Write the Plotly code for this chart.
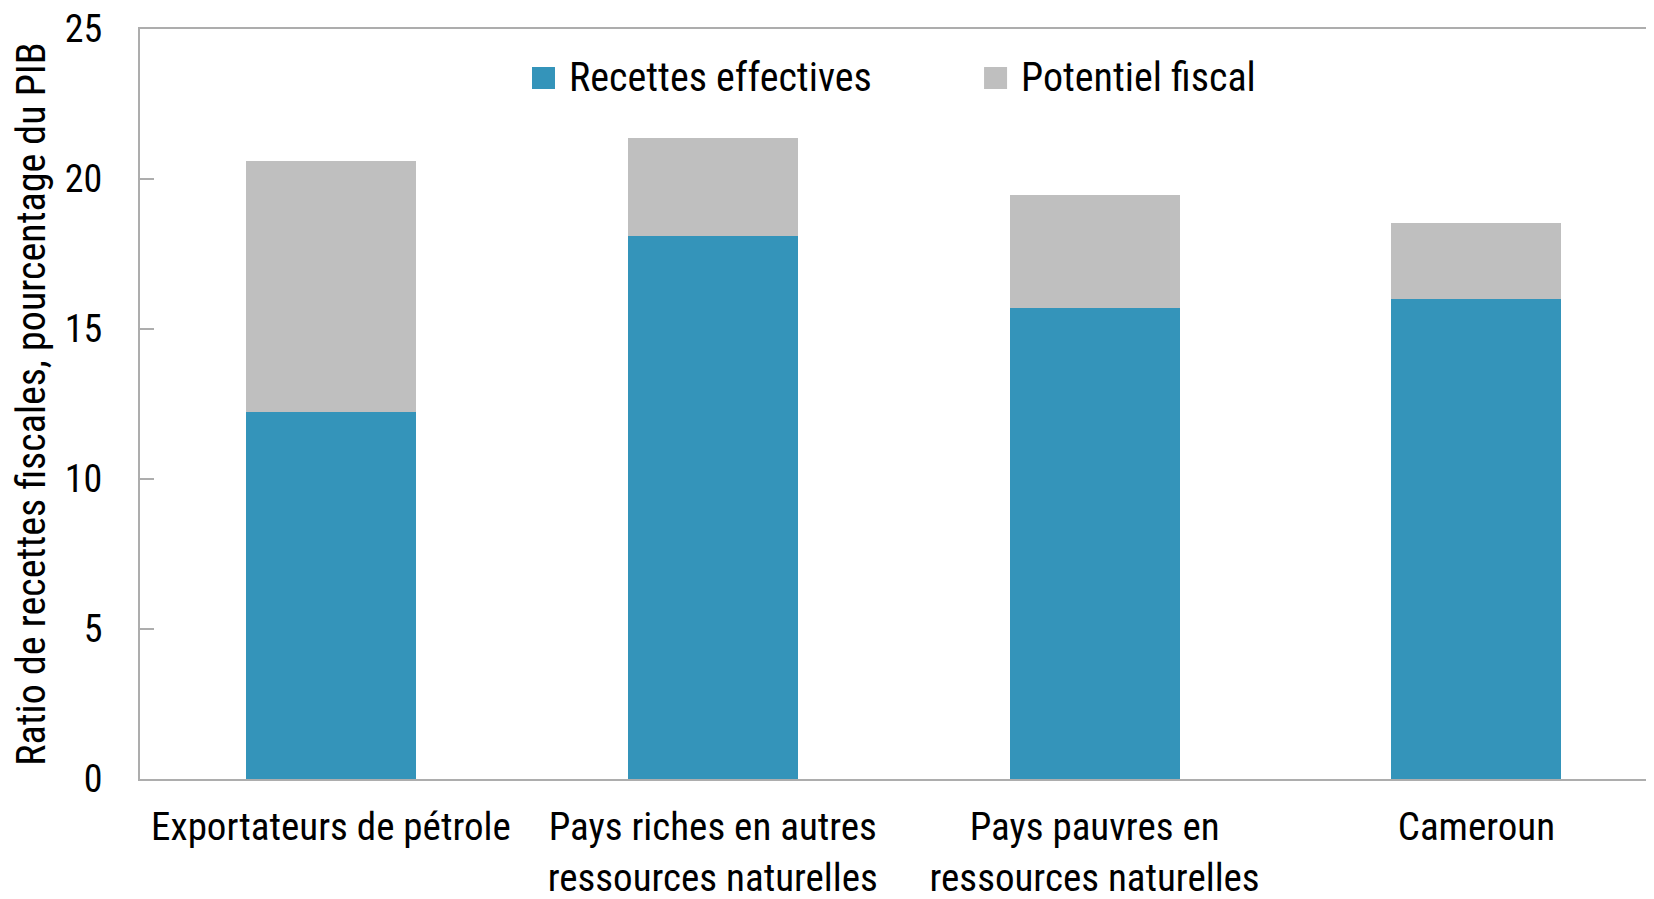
import plotly.graph_objects as go

# Data
categories = [
    "Exportateurs de pétrole",
    "Pays riches en autres<br>ressources naturelles",
    "Pays pauvres en<br>ressources naturelles",
    "Cameroun",
]
recettes_effectives = [12.22, 18.1, 15.7, 15.99]
potentiel_fiscal = [8.38, 3.27, 3.77, 2.53]  # stacked on top of recettes effectives

series_names = ["Recettes effectives", "Potentiel fiscal"]
series_colors = ["#3494BA", "#BFBFBF"]

y_ticks = [0, 5, 10, 15, 20, 25]

FONT = "Liberation Sans Narrow, Arial Narrow, Roboto Condensed, sans-serif"

fig = go.Figure()
for name, vals, col in zip(series_names, [recettes_effectives, potentiel_fiscal], series_colors):
    fig.add_trace(go.Bar(
        x=categories,
        y=vals,
        name=name,
        marker=dict(color=col, line=dict(width=0)),
        width=0.445,
        showlegend=False,
    ))

# hand-made legend so the squares can be as big as in the original
legend_x = [0.2589, 0.5575]
for name, col, lx in zip(series_names, series_colors, legend_x):
    fig.add_shape(type="rect", xref="paper", yref="paper",
                  x0=lx, x1=lx + 0.0152, y0=0.92, y1=0.9493,
                  fillcolor=col, line=dict(width=0))
    fig.add_annotation(x=lx + 0.0231, y=0.935, xref="paper", yref="paper",
                       text=name, showarrow=False, xanchor="left", yanchor="middle",
                       font=dict(size=40, color="black", family=FONT))

# page body has an 8px margin, so the figure is a bit smaller than the window
fig.update_layout(
    width=1646,
    height=891,
    barmode="stack",
    plot_bgcolor="white",
    paper_bgcolor="white",
    font=dict(family=FONT, size=40, color="black"),
    margin=dict(l=132, r=0, t=21, b=120),
    xaxis=dict(
        range=[-0.5, 3.465],
        automargin=False,
        showline=True, mirror=True, linecolor="#ADADAD", linewidth=2,
        ticks="outside", ticklen=12, tickcolor="white",
        tickfont=dict(size=39),
        showgrid=False,
    ),
    yaxis=dict(
        range=[0, 25],
        automargin=False,
        tickvals=y_ticks,
        showline=True, linecolor="#ADADAD", linewidth=2,
        ticks="inside", ticklen=14, tickcolor="#ADADAD", tickwidth=1.5,
        ticklabelstandoff=28,
        ticklabeloverflow="allow",
        tickfont=dict(size=38),
        showgrid=False, zeroline=False,
        title=dict(text="Ratio de recettes fiscales, pourcentage du PIB",
                   font=dict(size=40), standoff=14),
    ),
)

fig.write_html("out.html")
